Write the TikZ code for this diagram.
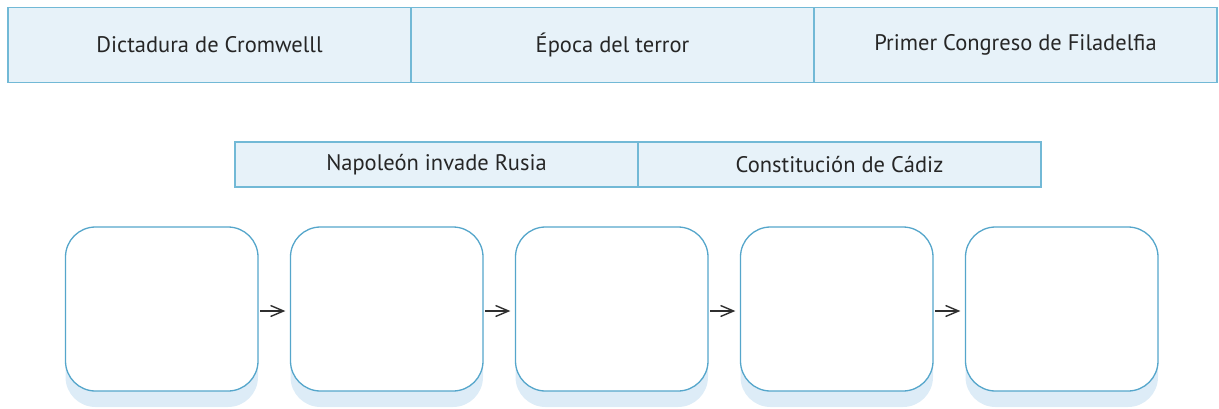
\documentclass[tikz,border=0pt]{standalone}
\usepackage{fontspec}
\setmainfont{PT Sans}
\usetikzlibrary{shadows,arrows.meta}
\definecolor{cellfill}{HTML}{E7F2F9}
\definecolor{cellline}{HTML}{72B9D6}
\definecolor{boxline}{HTML}{55A6CB}
\definecolor{shadowc}{HTML}{DDECF7}
\definecolor{arrowc}{HTML}{2F2F2F}
\tikzset{
  cell/.style={draw=cellline, fill=cellfill, line width=1.5pt, minimum width=403pt,
    minimum height=75pt, inner sep=0pt, font=\fontsize{22.5}{26}\selectfont, text=black!85},
  cellb/.style={cell, minimum height=45pt},
  stagebox/.style={draw=boxline, fill=white, line width=1.3pt, rounded corners=30pt,
    minimum width=192.5pt, minimum height=164pt, inner sep=0pt,
    drop shadow={shadow xshift=0pt, shadow yshift=-16pt, fill=shadowc, opacity=1}},
  link/.style={draw=arrowc, line width=1.6pt, -{Straight Barb[length=13pt,width=11pt,line width=1.4pt]}, shorten <=1.5pt, shorten >=4.5pt}
}
\begin{document}
\begin{tikzpicture}[x=1pt,y=-1pt]
\useasboundingbox (0,0) rectangle (1219,408);
\node[cell] (t1) at (209.5,44.75) {Dictadura de Cromwelll};
\node[cell] (t2) at (612.5,44.75) {Época del terror};
\node[cell] (t3) at (1015.5,44.75) {Primer Congreso de Filadelfia};
\node[cellb] (m1) at (436.5,164.5) {Napoleón invade Rusia};
\node[cellb] (m2) at (839.5,164.5) {Constitución de Cádiz};
\foreach \i in {1,...,5} {
  \node[stagebox] (b\i) at ({161.75+225*(\i-1)},309) {};
}
\foreach \i/\j in {1/2,2/3,3/4,4/5} {
  \draw[link] ([yshift=-2pt]b\i.east) -- ([yshift=-2pt]b\j.west);
}
\end{tikzpicture}
\end{document}
